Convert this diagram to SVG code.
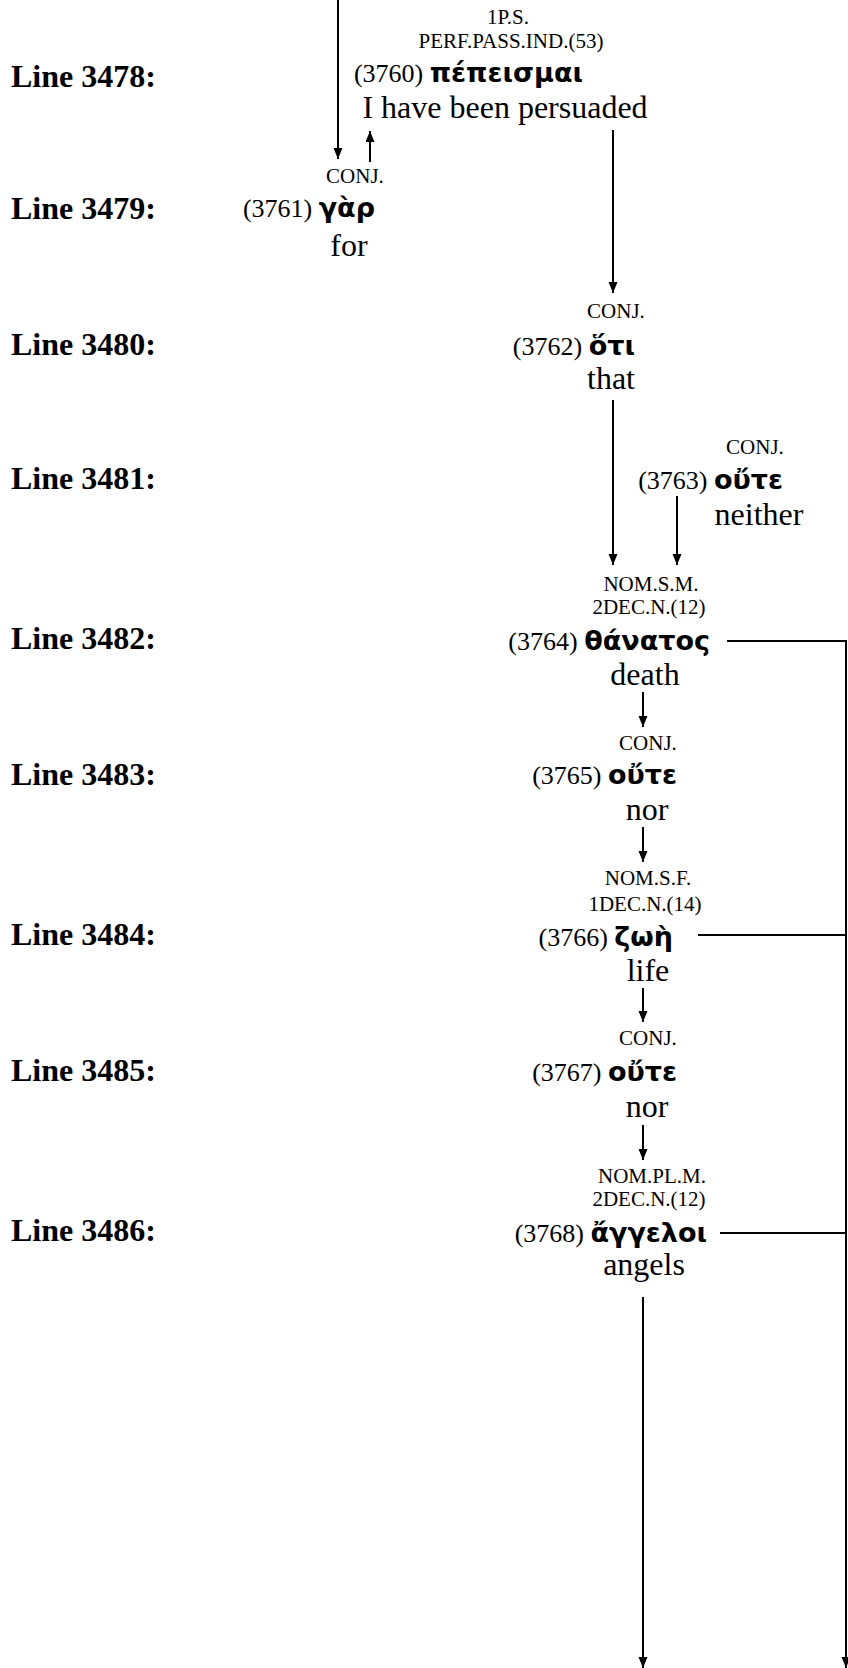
<svg xmlns="http://www.w3.org/2000/svg" width="848" height="1668" viewBox="0 0 848 1668">
<style>
.ln{font-family:"Liberation Serif",serif;font-weight:bold;font-size:32px;fill:#000}
.mo{font-family:"Liberation Serif",serif;font-size:21px;fill:#000;text-anchor:middle}
.gl{font-family:"Liberation Serif",serif;font-size:32px;fill:#000;text-anchor:middle}
.wd{font-family:"Liberation Serif",serif;font-size:26px;fill:#000;text-anchor:end}
.gk{font-family:"DejaVu Sans","Noto Sans",sans-serif;font-weight:bold;font-size:27px}
.c{stroke:#000;stroke-width:2;fill:none}
.a{marker-end:url(#ah)}
</style>
<defs>
<marker id="ah" markerUnits="userSpaceOnUse" markerWidth="11" markerHeight="10" refX="11" refY="4.5" orient="auto">
<path d="M0,0 L11,4.5 L0,9 z" fill="#000"/>
</marker>
</defs>
<rect width="848" height="1668" fill="#fff"/>
<g id="line-labels">
<text class="ln" x="11" y="87">Line 3478:</text>
<text class="ln" x="11" y="219">Line 3479:</text>
<text class="ln" x="11" y="355">Line 3480:</text>
<text class="ln" x="11" y="489">Line 3481:</text>
<text class="ln" x="11" y="649">Line 3482:</text>
<text class="ln" x="11" y="785">Line 3483:</text>
<text class="ln" x="11" y="945">Line 3484:</text>
<text class="ln" x="11" y="1081">Line 3485:</text>
<text class="ln" x="11" y="1241">Line 3486:</text>
</g>
<g id="n3760">
<text class="mo" x="508" y="24">1P.S.</text>
<text class="mo" x="511" y="48">PERF.PASS.IND.(53)</text>
<text class="wd" x="583" y="82">(3760) <tspan class="gk">πέπεισμαι</tspan></text>
<text class="gl" x="505" y="118">I have been persuaded</text>
</g>
<g id="n3761">
<text class="mo" x="355" y="183">CONJ.</text>
<text class="wd" x="375" y="217">(3761) <tspan class="gk">γὰρ</tspan></text>
<text class="gl" x="349" y="256">for</text>
</g>
<g id="n3762">
<text class="mo" x="616" y="318">CONJ.</text>
<text class="wd" x="635" y="355">(3762) <tspan class="gk">ὅτι</tspan></text>
<text class="gl" x="611" y="389">that</text>
</g>
<g id="n3763">
<text class="mo" x="755" y="454">CONJ.</text>
<text class="wd" x="783" y="489">(3763) <tspan class="gk">οὔτε</tspan></text>
<text class="gl" x="759" y="525">neither</text>
</g>
<g id="n3764">
<text class="mo" x="651" y="591">NOM.S.M.</text>
<text class="mo" x="649" y="614">2DEC.N.(12)</text>
<text class="wd" x="710" y="650">(3764) <tspan class="gk">θάνατος</tspan></text>
<text class="gl" x="645" y="685">death</text>
</g>
<g id="n3765">
<text class="mo" x="648" y="750">CONJ.</text>
<text class="wd" x="677" y="784">(3765) <tspan class="gk">οὔτε</tspan></text>
<text class="gl" x="647" y="820">nor</text>
</g>
<g id="n3766">
<text class="mo" x="648" y="885">NOM.S.F.</text>
<text class="mo" x="645" y="911">1DEC.N.(14)</text>
<text class="wd" x="673" y="946">(3766) <tspan class="gk">ζωὴ</tspan></text>
<text class="gl" x="648" y="981">life</text>
</g>
<g id="n3767">
<text class="mo" x="648" y="1045">CONJ.</text>
<text class="wd" x="677" y="1081">(3767) <tspan class="gk">οὔτε</tspan></text>
<text class="gl" x="647" y="1117">nor</text>
</g>
<g id="n3768">
<text class="mo" x="652" y="1183">NOM.PL.M.</text>
<text class="mo" x="649" y="1206">2DEC.N.(12)</text>
<text class="wd" x="707" y="1242">(3768) <tspan class="gk">ἄγγελοι</tspan></text>
<text class="gl" x="644" y="1275">angels</text>
</g>
<g id="connectors">
<line class="c a" x1="338" y1="0" x2="338" y2="159"/>
<line class="c a" x1="370" y1="162" x2="370" y2="131"/>
<line class="c a" x1="613" y1="130" x2="613" y2="293"/>
<line class="c a" x1="613" y1="400" x2="613" y2="565"/>
<line class="c a" x1="677" y1="496" x2="677" y2="565"/>
<line class="c a" x1="643" y1="692" x2="643" y2="727"/>
<line class="c a" x1="643" y1="827" x2="643" y2="862"/>
<line class="c a" x1="643" y1="988" x2="643" y2="1022"/>
<line class="c a" x1="643" y1="1125" x2="643" y2="1160"/>
<line class="c a" x1="643" y1="1297" x2="643" y2="1668"/>
<line class="c" x1="727" y1="641" x2="846" y2="641"/>
<line class="c" x1="698" y1="935" x2="846" y2="935"/>
<line class="c" x1="720" y1="1233" x2="846" y2="1233"/>
<line class="c a" x1="846" y1="640" x2="846" y2="1668"/>
</g>
</svg>
